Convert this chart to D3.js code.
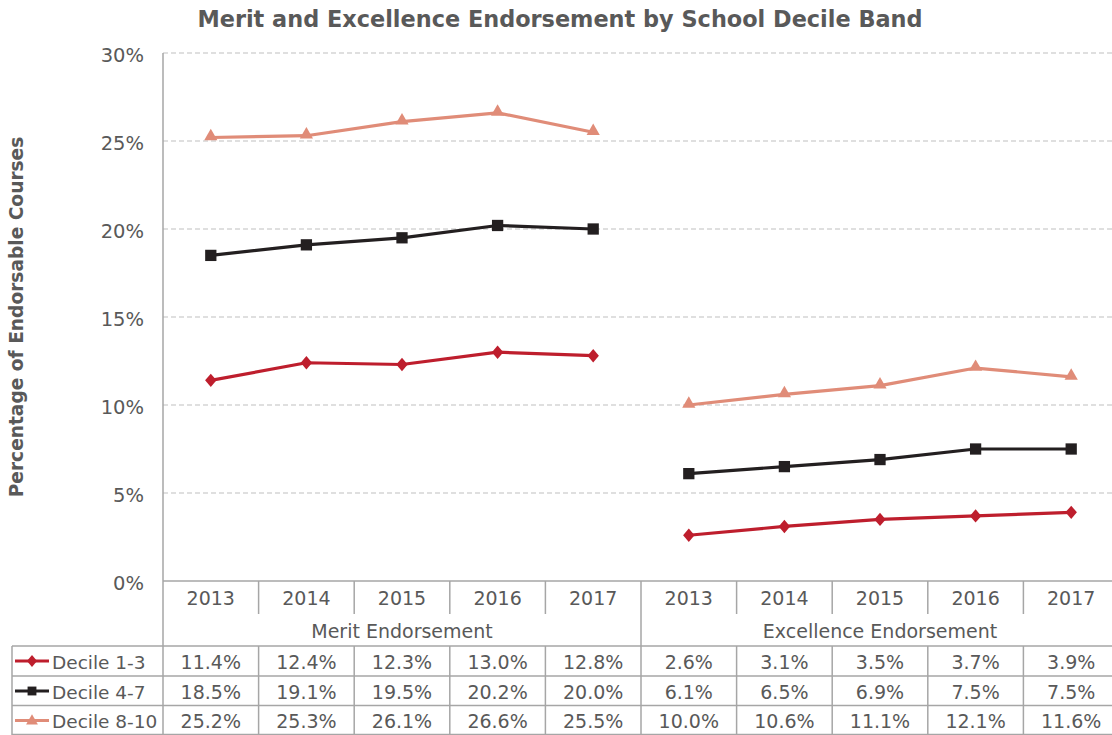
<!DOCTYPE html>
<html><head><meta charset="utf-8">
<script src="https://cdn.jsdelivr.net/npm/d3@7"></script>
<style>body{margin:0;background:#fff;overflow:hidden;} svg{display:block;font-family:"DejaVu Sans",Verdana,sans-serif;}</style>
</head><body><svg id="c" width="1112" height="735"></svg>
<script>
const years = ["2013","2014","2015","2016","2017"];
const groups = ["Merit Endorsement","Excellence Endorsement"];
const seriesNames = ["Decile 1-3","Decile 4-7","Decile 8-10"];
const decile13 = [11.4,12.4,12.3,13.0,12.8, 2.6,3.1,3.5,3.7,3.9];
const decile47 = [18.5,19.1,19.5,20.2,20.0, 6.1,6.5,6.9,7.5,7.5];
const decile810 = [25.2,25.3,26.1,26.6,25.5, 10.0,10.6,11.1,12.1,11.6];
const yTicks = [0,5,10,15,20,25,30];
const colors = ["#BE1E2D","#231F20","#E08C78"];
const symbols = [d3.symbolDiamond2, d3.symbolSquare2, d3.symbolTriangle2];

const series = [decile13, decile47, decile810];
const cats = [];
groups.forEach((g,gi)=>years.forEach(y=>cats.push(gi+"|"+y)));

const svg = d3.select("#c");
const L=163, R=1119, T=53, B=581, W=1112;
const x = d3.scaleBand().domain(cats).range([L,R]).padding(0);
const y = d3.scaleLinear().domain([0,30]).range([B,T]);
const txt="#595959", gridC="#c0c0c0", lineC="#a6a6a6";
const fs=19;

// title
svg.append("text").attr("x",560).attr("y",27).attr("text-anchor","middle")
  .attr("font-weight","bold").attr("font-size",22.4).attr("fill",txt)
  .text("Merit and Excellence Endorsement by School Decile Band");

// y label
svg.append("text").attr("transform","translate(23,317) rotate(-90)").attr("text-anchor","middle")
  .attr("font-weight","bold").attr("font-size",18.6).attr("fill",txt)
  .text("Percentage of Endorsable Courses");

// grid
svg.append("g").selectAll("line").data(yTicks.filter(t=>t>0)).join("line")
  .attr("x1",L).attr("x2",W).attr("y1",d=>y(d)).attr("y2",d=>y(d))
  .attr("stroke",gridC).attr("stroke-width",1.2).attr("stroke-dasharray","5,3");

// y axis
const ya = svg.append("g").attr("transform",`translate(${L},0)`)
  .call(d3.axisLeft(y).tickValues(yTicks).tickFormat(d=>d+"%").tickSize(0).tickPadding(19));
ya.select(".domain").remove();
ya.selectAll("text").attr("font-size",19.5).attr("fill",txt).attr("font-family","DejaVu Sans, sans-serif").attr("dy","0.42em");

// table lines
const tl = svg.append("g").attr("stroke",lineC).attr("stroke-width",1.5);
tl.append("line").attr("x1",L).attr("x2",L).attr("y1",T).attr("y2",735);
tl.append("line").attr("x1",L).attr("x2",W).attr("y1",B).attr("y2",B);
const rowYs=[646,676,705.5,734.5];
rowYs.forEach(ry=>tl.append("line").attr("x1",12).attr("x2",W).attr("y1",ry).attr("y2",ry));
tl.append("line").attr("x1",12).attr("x2",12).attr("y1",646).attr("y2",735);
cats.forEach((c,i)=>{
  if(i===0) return;
  const xx = x(c);
  if(i===5) tl.append("line").attr("x1",xx).attr("x2",xx).attr("y1",B).attr("y2",735);
  else {
    tl.append("line").attr("x1",xx).attr("x2",xx).attr("y1",B).attr("y2",614);
    tl.append("line").attr("x1",xx).attr("x2",xx).attr("y1",646).attr("y2",735);
  }
});

// year labels
svg.append("g").selectAll("text").data(cats).join("text")
  .attr("x",d=>x(d)+x.bandwidth()/2).attr("y",605).attr("text-anchor","middle")
  .attr("font-size",fs).attr("fill",txt).text(d=>d.split("|")[1]);
// group labels
groups.forEach((g,gi)=>{
  const a = x(gi+"|"+years[0]), b = x(gi+"|"+years[years.length-1])+x.bandwidth();
  svg.append("text").attr("x",(a+b)/2).attr("y",638).attr("text-anchor","middle")
    .attr("font-size",fs).attr("fill",txt).text(g);
});

// data rows
series.forEach((s,si)=>{
  const ry = rowYs[si], cy = ry+15;
  svg.append("g").selectAll("text").data(s).join("text")
    .attr("x",(d,i)=>x(cats[i])+x.bandwidth()/2).attr("y",cy+7.5).attr("text-anchor","middle")
    .attr("font-size",fs).attr("fill",txt).text(d=>d.toFixed(1)+"%");
  svg.append("line").attr("x1",15).attr("x2",49).attr("y1",cy).attr("y2",cy)
    .attr("stroke",colors[si]).attr("stroke-width",3);
  svg.append("path").attr("d",d3.symbol().type(symbols[si]).size(si===2?100:si===1?100:90)())
    .attr("transform",`translate(32,${cy + (si===2?0.5:0)})` + (si===0?" scale(0.85,1)":""))
    .attr("fill",colors[si]);
  svg.append("text").attr("x",52).attr("y",cy+7.5).attr("font-size",18.5).attr("fill",txt).text(seriesNames[si]);
});

// lines & markers
const line = d3.line().x(d=>x(d.c)+x.bandwidth()/2).y(d=>y(d.v));
series.forEach((s,si)=>{
  const pts = s.map((v,i)=>({c:cats[i],v}));
  const g = svg.append("g");
  [pts.slice(0,5),pts.slice(5)].forEach(seg=>{
    g.append("path").attr("d",line(seg)).attr("fill","none").attr("stroke",colors[si])
      .attr("stroke-width",3.2).attr("stroke-linejoin","round");
  });
  g.selectAll("path.m").data(pts).join("path").attr("class","m")
    .attr("d",d3.symbol().type(symbols[si]).size(si===2?125:si===1?162:115)())
    .attr("transform",d=>`translate(${x(d.c)+x.bandwidth()/2},${y(d.v)+(si===2?-1:0)})`+(si===0?" scale(0.85,1)":""))
    .attr("fill",colors[si]);
});
</script></body></html>
